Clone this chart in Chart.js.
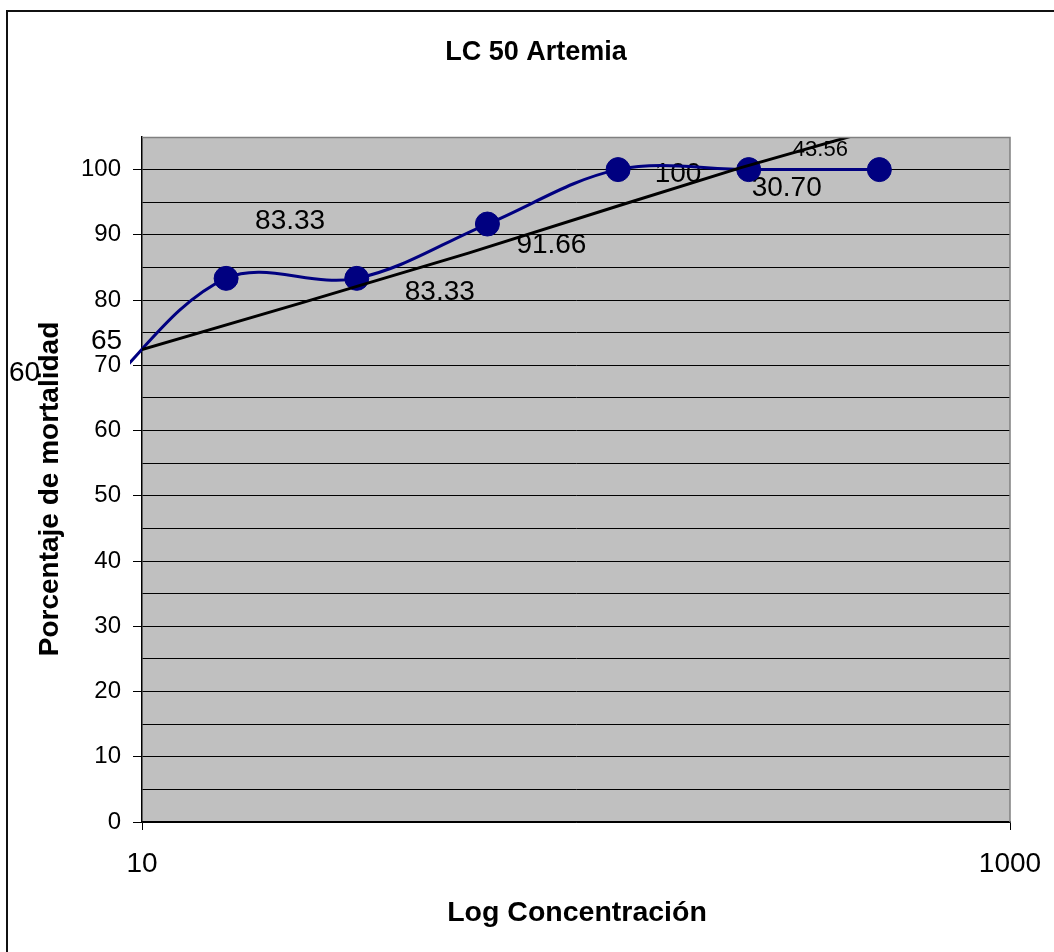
<!DOCTYPE html>
<html>
<head>
<meta charset="utf-8">
<script src="https://cdn.jsdelivr.net/npm/chart.js@4/dist/chart.umd.min.js"></script>
<style>
  html, body { margin: 0; padding: 0; background: #fff; overflow: hidden; }
  #wrap { position: relative; width: 1054px; height: 952px; }
</style>
</head>
<body>
<div id="wrap"><canvas id="chart" width="1054" height="952"></canvas></div>
<script>
// Concentrations tested and observed mortality (%)
const concentrations = [7.8125, 15.625, 31.25, 62.5, 125, 250, 500];
const mortality = [65, 83.33, 83.33, 91.66, 100, 100, 100];

// Regression line through the log-concentration response
const fitConcentrations = [10, 23.1, 56.5, 125.9, 240, 430];
const fitMortality = [72.4, 79.5, 87.2, 94.5, 100.3, 105.1];

// Axis ticks
const xTickValues = [10, 1000];
const yTickLabels = [0, 10, 20, 30, 40, 50, 60, 70, 80, 90, 100];

// Text labels and the data point each one is attached to
const labelTexts = ['65', '60', '83.33', '83.33', '91.66', '100', '30.70', '43.56'];
const labelPoints = [0, 0, 1, 2, 3, 4, 5, 6];

// Label placement relative to its point (pixels) and font size
const labelStyle = [
  { dx: 11, dy: -57, size: 28 },
  { dx: -71, dy: -25, size: 28 },
  { dx: 64, dy: -57, size: 28 },
  { dx: 83, dy: 14, size: 28 },
  { dx: 64, dy: 21, size: 28 },
  { dx: 60, dy: 5, size: 28 },
  { dx: 38, dy: 19, size: 28 },
  { dx: -59, dy: -20, size: 22 }
];

const FONT = '"Liberation Sans", Arial, Helvetica, sans-serif';

const framePlugin = {
  id: 'frame',
  beforeDraw(chart) {
    const { ctx, chartArea: a } = chart;
    ctx.save();
    ctx.fillStyle = '#c0c0c0';
    ctx.fillRect(a.left, a.top, a.right - a.left, a.bottom - a.top);
    ctx.restore();
  },
  beforeDatasetsDraw(chart) {
    const { ctx } = chart;
    const meta = chart.getDatasetMeta(1);
    ctx.save();
    ctx.fillStyle = '#000';
    ctx.textAlign = 'center';
    ctx.textBaseline = 'middle';
    labelTexts.forEach((t, i) => {
      const pt = meta.data[labelPoints[i]];
      const st = labelStyle[i];
      ctx.font = st.size + 'px ' + FONT;
      ctx.fillText(t, pt.x + st.dx, pt.y + st.dy);
    });
    ctx.restore();
  },
  afterDatasetsDraw(chart) {
    const { ctx, chartArea: a } = chart;
    ctx.save();
    ctx.strokeStyle = '#808080';
    ctx.lineWidth = 1.5;
    ctx.beginPath();
    ctx.moveTo(a.left, a.top + 0.5);
    ctx.lineTo(a.right, a.top + 0.5);
    ctx.lineTo(a.right, a.bottom);
    ctx.stroke();
    ctx.restore();
  },
  afterDraw(chart) {
    const { ctx } = chart;
    ctx.save();
    // outer chart border
    ctx.fillStyle = '#111';
    ctx.fillRect(6, 10, 2, 952);
    ctx.fillRect(6, 10, 1054, 2);
    // titles
    ctx.fillStyle = '#000';
    ctx.textAlign = 'center';
    ctx.textBaseline = 'middle';
    ctx.font = 'bold 27px ' + FONT;
    ctx.fillText('LC 50 Artemia', 536, 53);
    ctx.font = 'bold 28.5px ' + FONT;
    ctx.fillText('Log Concentración', 577, 913);
    ctx.translate(50, 489);
    ctx.rotate(-Math.PI / 2);
    ctx.font = 'bold 28px ' + FONT;
    ctx.fillText('Porcentaje de mortalidad', 0, 0);
    ctx.restore();
  }
};

new Chart(document.getElementById('chart'), {
  type: 'line',
  data: {
    datasets: [
      {
        label: 'Tendencia',
        data: fitConcentrations.map((x, i) => ({ x, y: fitMortality[i] })),
        borderColor: '#000',
        borderWidth: 3,
        pointRadius: 0,
        tension: 0,
        fill: false
      },
      {
        label: 'Mortalidad',
        data: concentrations.map((x, i) => ({ x, y: mortality[i] })),
        borderColor: '#000080',
        backgroundColor: '#000080',
        borderWidth: 3,
        pointRadius: 12,
        pointBackgroundColor: '#000080',
        pointBorderColor: '#000080',
        pointBorderWidth: 1,
        tension: 0.35,
        fill: false,
        clip: { left: 12, top: 0, right: 0, bottom: 0 }
      }
    ]
  },
  options: {
    responsive: false,
    animation: false,
    devicePixelRatio: 1,
    layout: { padding: { left: 0, top: 137, right: 44, bottom: 0 } },
    plugins: { legend: { display: false }, tooltip: { enabled: false }, title: { display: false } },
    elements: { line: { capBezierPoints: false } },
    scales: {
      x: {
        type: 'logarithmic',
        min: 10,
        max: 1000,
        afterBuildTicks(s) { s.ticks = xTickValues.map(v => ({ value: v })); },
        afterFit(s) { s.height = 130; s.paddingLeft = 0; s.paddingRight = 0; },
        ticks: {
          autoSkip: false, maxRotation: 0, padding: 17, color: '#000',
          font: { family: FONT, size: 28 },
          callback: v => String(v)
        },
        grid: { drawOnChartArea: false, drawTicks: true, tickLength: 8, color: '#000', lineWidth: 1 },
        border: { color: '#000', width: 1.5 }
      },
      y: {
        min: 0,
        max: 105,
        afterFit(s) { s.width = 142; s.paddingTop = 0; s.paddingBottom = 0; },
        ticks: {
          stepSize: 5, autoSkip: false, padding: 12, color: '#000',
          font: { family: FONT, size: 24 },
          callback: v => (yTickLabels.includes(v) ? String(v) : '')
        },
        grid: {
          color: c => (c.tick && c.tick.value === 105 ? 'rgba(0,0,0,0)' : '#000'),
          lineWidth: 1,
          tickLength: 9,
          tickColor: c => (c.tick && yTickLabels.includes(c.tick.value) ? '#000' : 'rgba(0,0,0,0)')
        },
        border: { color: '#000', width: 1.5 }
      }
    }
  },
  plugins: [framePlugin]
});
</script>
</body>
</html>
